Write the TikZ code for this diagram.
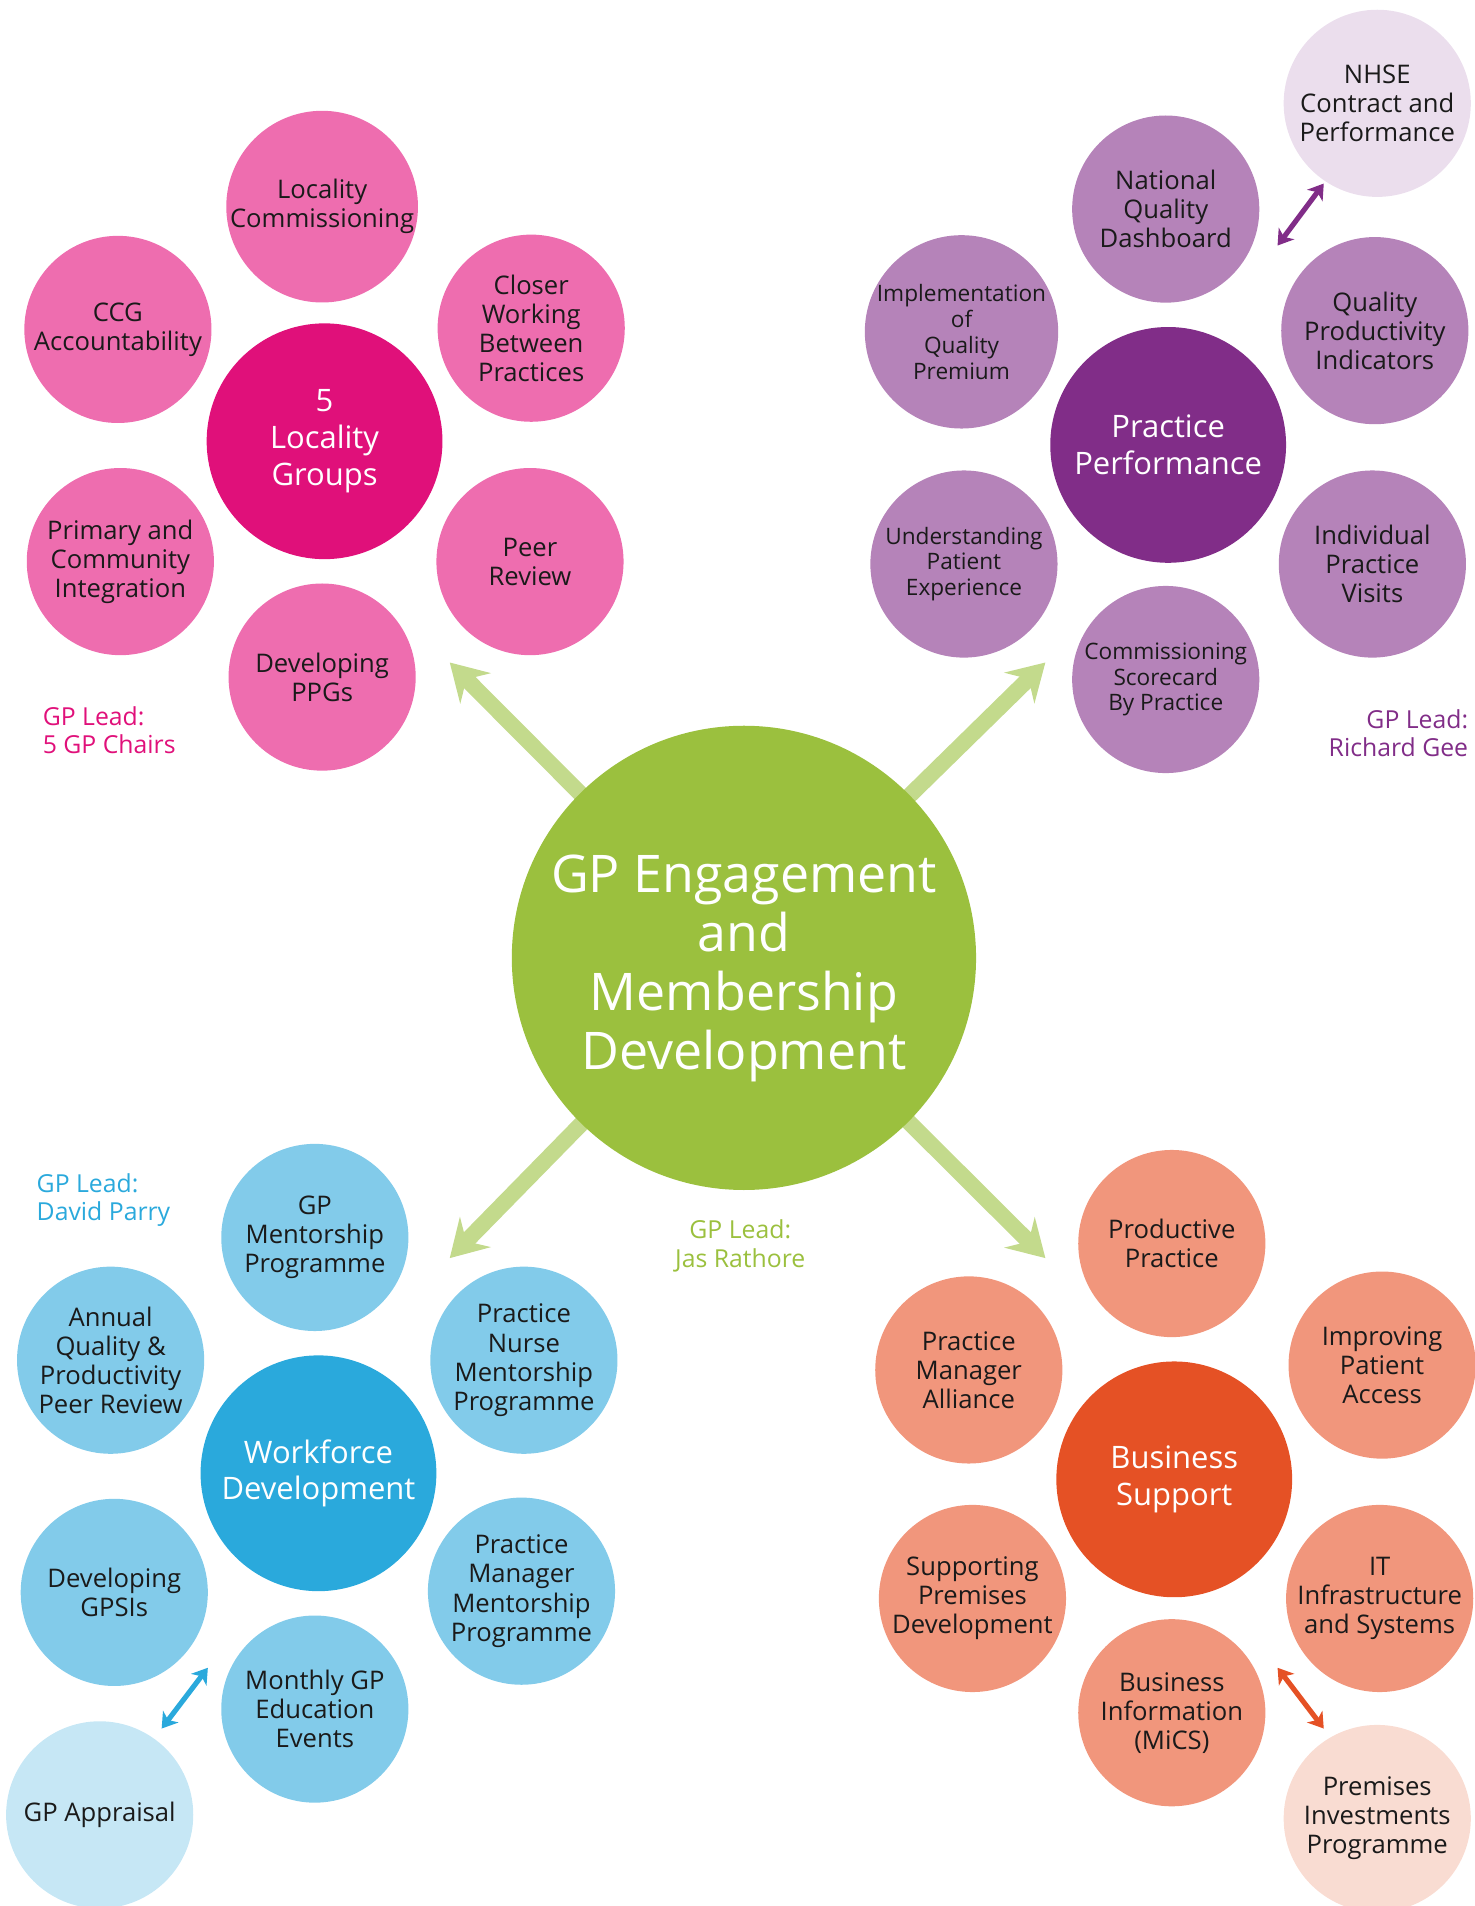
\documentclass[tikz,border=0pt]{standalone}
\usepackage{fontspec}
\setmainfont{Open Sans}
\usetikzlibrary{arrows.meta,backgrounds}

% colours of the four groups and the centre
\definecolor{greenC}{HTML}{9BC03E}
\definecolor{greenA}{HTML}{C3DA8C}
\definecolor{pinkD}{HTML}{E0107A}
\definecolor{pinkM}{HTML}{EE6DAF}
\definecolor{purpD}{HTML}{812D88}
\definecolor{purpM}{HTML}{B583B9}
\definecolor{purpL}{HTML}{EBDEED}
\definecolor{blueD}{HTML}{2AA9DC}
\definecolor{blueM}{HTML}{82CBEA}
\definecolor{blueL}{HTML}{C6E7F5}
\definecolor{orgD}{HTML}{E55125}
\definecolor{orgM}{HTML}{F1967C}
\definecolor{orgL}{HTML}{F9DCD2}
\definecolor{txt}{HTML}{1A1A1A}

\tikzset{
  smallc/.style={circle, minimum size=3.08cm, inner sep=0pt, align=center,
    text=txt, font=\fontsize{12}{13.6}\selectfont},
  tinyc/.style={smallc, font=\fontsize{10.6}{12.1}\selectfont},
  bigc/.style={circle, minimum size=3.88cm, inner sep=0pt, align=center,
    text=white, font=\fontsize{14.5}{17.2}\selectfont},
  lead/.style={font=\fontsize{11.6}{13.2}\selectfont},
  bigarrow/.style={greenA, line width=7.5pt,
    -{Stealth[length=17pt, width=20pt, inset=6pt]}},
  linkarrow/.style={line width=2.4pt,
    {Stealth[length=7pt, width=9pt, inset=2pt]}-{Stealth[length=7pt, width=9pt, inset=2pt]}}
}

\begin{document}
\begin{tikzpicture}[x=0.02cm, y=-0.02cm]

    \useasboundingbox (0,0) rectangle (1213,1568);

    % Centre circle and its title
    \node[circle, fill=greenC, minimum size=7.64cm, inner sep=0pt] (ctr) at (612,788) {};
    \node[align=center, text=white, font=\fontsize{24.3}{27.6}\selectfont] (ctrtext) at (612,797)
      {GP Engagement\\and\\Membership\\Development};

    % Tips of the big arrows
    \coordinate (tipNW) at (370,545);
    \coordinate (tipNE) at (860,545);
    \coordinate (tipSW) at (370,1035);
    \coordinate (tipSE) at (860,1035);

    \begin{scope}[on background layer]
        \draw[bigarrow] (ctr.center) -- (tipNW);
        \draw[bigarrow] (ctr.center) -- (tipNE);
        \draw[bigarrow] (ctr.center) -- (tipSW);
        \draw[bigarrow] (ctr.center) -- (tipSE);
    \end{scope}

    % Locality groups (top left)
    \node[bigc, fill=pinkD] (loc) at (267,363) {5\\Locality\\Groups};
    \node[smallc, fill=pinkM] (loccom) at (265,170) {Locality\\Commissioning};
    \node[smallc, fill=pinkM] (ccg) at (97,271) {CCG\\Accountability};
    \node[smallc, fill=pinkM] (closer) at (437,270) {Closer\\Working\\Between\\Practices};
    \node[smallc, fill=pinkM] (prim) at (99,462) {Primary and\\Community\\Integration};
    \node[smallc, fill=pinkM] (peer) at (436,462) {Peer\\Review};
    \node[smallc, fill=pinkM] (ppg) at (265,557) {Developing\\PPGs};
    \node[lead, text=pinkD, anchor=west, align=left] (locl) at (29,601) {GP Lead:\\5 GP Chairs};

    % Practice performance (top right)
    \node[bigc, fill=purpD] (perf) at (961,366) {Practice\\Performance};
    \node[smallc, fill=purpM] (nqd) at (959,172) {National\\Quality\\Dashboard};
    \node[smallc, fill=purpL] (nhse) at (1133,85) {NHSE\\Contract and\\Performance};
    \node[tinyc, fill=purpM] (iqp) at (791,273) {Implementation\\of\\Quality\\Premium};
    \node[smallc, fill=purpM] (qpi) at (1131,272) {Quality\\Productivity\\Indicators};
    \node[tinyc, fill=purpM] (upe) at (793,464) {Understanding\\Patient\\Experience};
    \node[smallc, fill=purpM] (ipv) at (1129,464) {Individual\\Practice\\Visits};
    \node[tinyc, fill=purpM] (csp) at (959,559) {Commissioning\\Scorecard\\By Practice};
    \node[lead, text=purpD, anchor=east, align=right] (perfl) at (1214,603) {GP Lead:\\Richard Gee};

    \coordinate (nhseA) at (1051,202);
    \coordinate (nhseB) at (1089,151);
    \draw[linkarrow, purpD] (nhseA) -- (nhseB);

    % Workforce development (bottom left)
    \node[bigc, fill=blueD] (work) at (262,1212) {Workforce\\Development};
    \node[smallc, fill=blueM] (gpm) at (259,1018) {GP\\Mentorship\\Programme};
    \node[smallc, fill=blueM] (aqp) at (91,1119) {Annual\\Quality \&\\Productivity\\Peer Review};
    \node[smallc, fill=blueM] (pnm) at (431,1119) {Practice\\Nurse\\Mentorship\\Programme};
    \node[smallc, fill=blueM] (gpsi) at (94,1310) {Developing\\GPSIs};
    \node[smallc, fill=blueM] (pmm) at (429,1309) {Practice\\Manager\\Mentorship\\Programme};
    \node[smallc, fill=blueM] (edu) at (259,1406) {Monthly GP\\Education\\Events};
    \node[smallc, fill=blueL] (appr) at (82,1493) {GP Appraisal};
    \node[lead, text=blueD, anchor=west, align=left] (workl) at (24,987) {GP Lead:\\David Parry};

    \coordinate (apprA) at (133,1422);
    \coordinate (apprB) at (171,1372);
    \draw[linkarrow, blueD] (apprA) -- (apprB);

    % Business support (bottom right)
    \node[bigc, fill=orgD] (bus) at (966,1217) {Business\\Support};
    \node[smallc, fill=orgM] (prod) at (964,1023) {Productive\\Practice};
    \node[smallc, fill=orgM] (pma) at (797,1127) {Practice\\Manager\\Alliance};
    \node[smallc, fill=orgM] (ipa) at (1137,1123) {Improving\\Patient\\Access};
    \node[smallc, fill=orgM] (spd) at (800,1315) {Supporting\\Premises\\Development};
    \node[smallc, fill=orgM] (itis) at (1135,1315) {IT\\Infrastructure\\and Systems};
    \node[smallc, fill=orgM] (mics) at (964,1409) {Business\\Information\\(MiCS)};
    \node[smallc, fill=orgL] (pip) at (1133,1496) {Premises\\Investments\\Programme};

    \coordinate (pipA) at (1051,1372);
    \coordinate (pipB) at (1089,1422);
    \draw[linkarrow, orgD] (pipA) -- (pipB);

    % Lead of the whole programme
    \node[lead, text=greenC, align=center] (ctrl) at (609,1025) {GP Lead:\\Jas Rathore};

\end{tikzpicture}
\end{document}
